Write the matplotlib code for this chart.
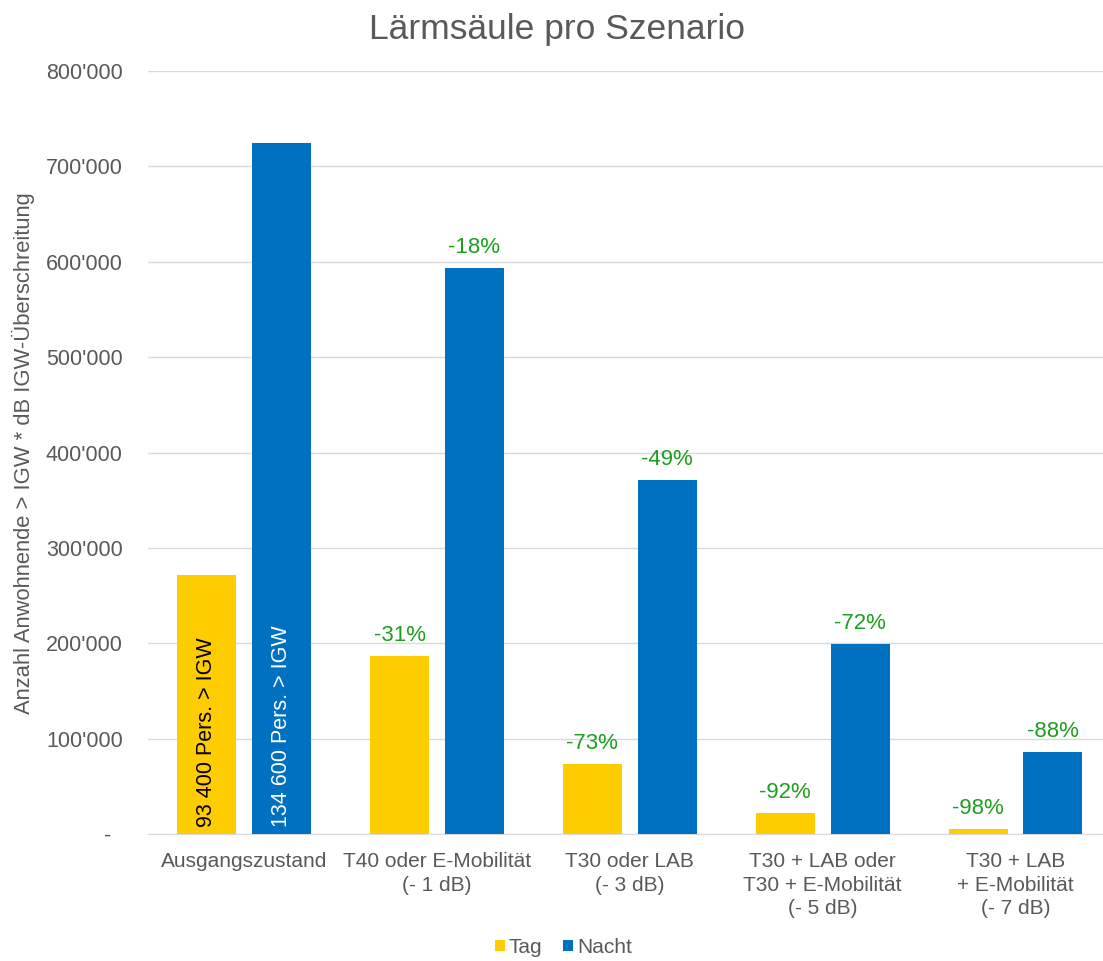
import matplotlib.pyplot as plt
import numpy as np

plt.rcParams['font.family'] = ['Liberation Sans', 'DejaVu Sans']

categories = [
    "Ausgangszustand",
    "T40 oder E-Mobilität\n(- 1 dB)",
    "T30 oder LAB\n(- 3 dB)",
    "T30 + LAB oder\nT30 + E-Mobilität\n(- 5 dB)",
    "T30 + LAB\n+ E-Mobilität\n(- 7 dB)",
]
tag = [271500, 186600, 73400, 22000, 5200]
nacht = [724300, 593300, 371000, 199200, 86000]
tag_pct = ["", "-31%", "-73%", "-92%", "-98%"]
nacht_pct = ["", "-18%", "-49%", "-72%", "-88%"]
tag_note = "93 400 Pers. > IGW"
nacht_note = "134 600 Pers. > IGW"
yticks = [0, 100000, 200000, 300000, 400000, 500000, 600000, 700000, 800000]

YELLOW = "#FFCC00"
BLUE = "#0070C0"
GRAY = "#595959"
GREEN = "#1E9E1E"

fig = plt.figure(figsize=(11.03, 9.61), dpi=100)
# plot area runs slightly past the right edge, like the source
ax = fig.add_axes([0.134, 0.132, 0.874, 0.794])

x = np.arange(len(categories))
w = 0.306
off = 0.194
b1 = ax.bar(x - off, tag, w, color=YELLOW, label="Tag", zorder=3)
b2 = ax.bar(x + off, nacht, w, color=BLUE, label="Nacht", zorder=3)

for xi, v, t in zip(x, tag, tag_pct):
    if t:
        ax.text(xi - off, v + 11000, t, ha="center", va="bottom", color=GREEN, fontsize=16)
for xi, v, t in zip(x, nacht, nacht_pct):
    if t:
        ax.text(xi + off, v + 11000, t, ha="center", va="bottom", color=GREEN, fontsize=16)

ax.text(x[0] - off, 7000, tag_note, rotation=90, ha="center", va="bottom", color="black", fontsize=15.5, zorder=4)
ax.text(x[0] + off, 7000, nacht_note, rotation=90, ha="center", va="bottom", color="white", fontsize=15.5, zorder=4)

ax.set_xlim(-0.5, len(categories) - 0.5)
ax.set_ylim(0, 800000)
ax.set_yticks(yticks)
ax.set_yticklabels(["-  "] + [f"{v // 1000}'000" for v in yticks[1:]])
ax.yaxis.grid(True, color="#D9D9D9", linewidth=1, zorder=0)
ax.set_axisbelow(True)
for s in ["top", "right", "left"]:
    ax.spines[s].set_visible(False)
ax.spines["bottom"].set_color("#D9D9D9")
ax.tick_params(axis="both", length=0, colors=GRAY)
ax.tick_params(axis="y", pad=18, labelsize=15.5)
ax.set_xticks(x)
ax.set_xticklabels(categories, fontsize=15, color=GRAY, linespacing=1.3)
ax.tick_params(axis="x", pad=13)

ax.set_ylabel("Anzahl Anwohnende > IGW * dB IGW-Überschreitung", fontsize=15.8, color=GRAY, labelpad=8)
fig.text(0.505, 0.969, "Lärmsäule pro Szenario", fontsize=25.5, color=GRAY, ha="center", va="center")

fig.legend(handles=[b1, b2], labels=["Tag", "Nacht"], loc="center", bbox_to_anchor=(0.511, 0.014),
           ncol=2, frameon=False, fontsize=15, handlelength=0.45, handleheight=0.45,
           handletextpad=0.2, columnspacing=1.0, labelcolor=GRAY)

fig.savefig("out.png", dpi=100)
